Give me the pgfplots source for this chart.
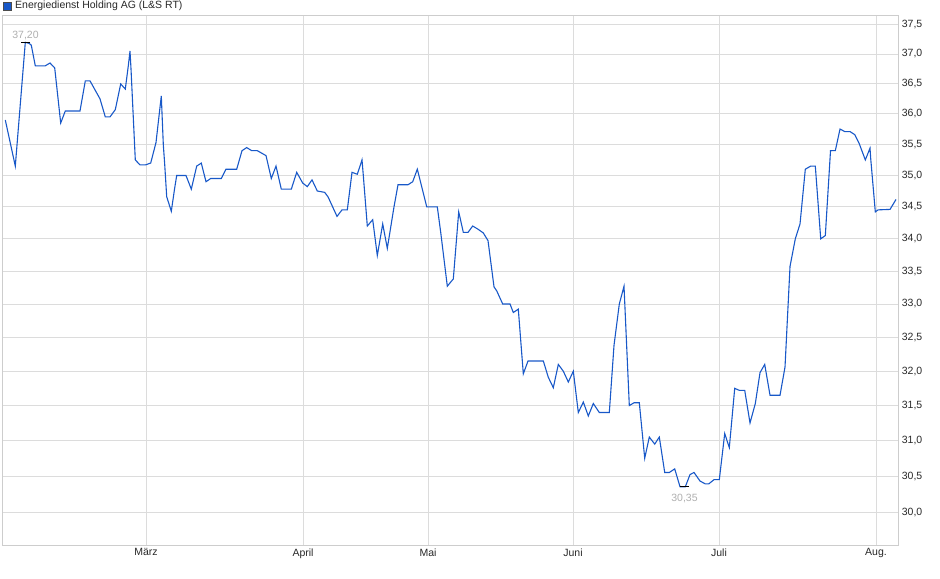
\documentclass[border=0pt]{standalone}
\usepackage{fontspec}
\setmainfont{Liberation Sans}
\usepackage{pgfplots}
\pgfplotsset{compat=1.18}
\definecolor{kurs}{RGB}{24,88,200}
\definecolor{gitter}{RGB}{220,220,220}
\definecolor{rahmen}{RGB}{205,205,205}
\definecolor{marke}{RGB}{175,175,175}
\definecolor{schrift}{RGB}{40,40,40}

\begin{document}
\begin{tikzpicture}[x=1bp,y=1bp]
\useasboundingbox (0,0) rectangle (940,579);
% title with series square
\filldraw[fill=kurs,draw=black!70,line width=0.6bp] (3.5,569) rectangle (11.5,577);
\node[anchor=west,inner sep=0pt,text=schrift,font=\fontsize{10.5bp}{12bp}\selectfont] at (15,573) {Energiedienst Holding AG (L\&S RT)};

\begin{axis}[
at={(2.7bp,33.7bp)},anchor=south west,
scale only axis,
width=895.6bp,height=529.3bp,
ymode=log,
xmin=2.7,xmax=898.3,
ymin=29.549,ymax=37.655,
xtick={146,303,428,573,719,876},
xticklabels={März,April,Mai,Juni,Juli,Aug.},
ytick={30,30.5,31,31.5,32,32.5,33,33.5,34,34.5,35,35.5,36,36.5,37,37.5},
yticklabels={{30,0},{30,5},{31,0},{31,5},{32,0},{32,5},{33,0},{33,5},{34,0},{34,5},{35,0},{35,5},{36,0},{36,5},{37,0},{37,5}},
yticklabel pos=right,
major tick length=0pt,
tick label style={font=\fontsize{10.5bp}{12bp}\selectfont,text=schrift},
xmajorgrids,ymajorgrids,
grid style={draw=gitter,line width=1bp},
axis line style={draw=rahmen,line width=1bp},
clip=false
]

\addplot[color=kurs,line width=1.1bp,mark=none]
coordinates {
(5.3,35.90) (15.3,35.15) (25.3,37.20) (29.3,37.18) (31.3,37.15)
(35.3,36.80) (45.3,36.80) (50,36.85) (54.7,36.77) (60.7,35.85)
(65.3,36.05) (80,36.05) (85.3,36.55) (90,36.55) (100,36.25)
(105.3,35.95) (110,35.95) (115.3,36.07) (120.7,36.50) (125.3,36.41)
(128.3,36.80) (130,37.05) (131,36.75) (135.3,35.25) (140,35.17)
(145.3,35.17) (150.7,35.20) (156,35.53) (161.3,36.30) (163.3,35.50)
(164.7,35.18) (166.7,34.66) (171.3,34.43) (174.7,34.80) (176.7,35.00)
(186,35.00) (191.3,34.78) (196.7,35.15) (201.3,35.20) (206,34.90)
(210.7,34.95) (221.3,34.95) (226,35.10) (236.7,35.10) (242,35.40)
(246.7,35.45) (251.7,35.40) (257.3,35.40) (266,35.32) (271.3,34.95)
(276,35.15) (281.3,34.78) (291.3,34.78) (296.7,35.05) (302.7,34.88)
(307.3,34.82) (312,34.93) (317.3,34.75) (324.7,34.73) (328,34.66)
(337,34.35) (342,34.45) (347.3,34.45) (352,35.05) (357.3,35.02)
(362,35.25) (363.3,35.00) (367.3,34.20) (372.7,34.30) (377.3,33.74)
(382.7,34.23) (387.3,33.85) (394,34.50) (398,34.85) (408,34.85)
(412.7,34.90) (417.3,35.10) (426.7,34.50) (437.3,34.50) (440.7,34.10)
(447.3,33.27) (453.3,33.38) (458.7,34.42) (460,34.33) (463.3,34.10)
(468,34.10) (472.7,34.20) (478,34.15) (483.3,34.09) (488,33.97)
(494,33.26) (496.7,33.20) (502.7,33.00) (510,33.00) (513.3,32.87)
(518.3,32.92) (523.3,31.96) (528,32.15) (543.3,32.15) (548.3,31.91)
(553.3,31.76) (558.3,32.10) (563.3,32.00) (568.3,31.84) (573.3,32.00)
(578.3,31.40) (583.3,31.55) (588.3,31.35) (593.3,31.53) (599.3,31.40)
(609.3,31.40) (614,32.38) (619.3,33.00) (624,33.27) (629.3,31.50)
(634,31.54) (639.3,31.54) (644.7,30.75) (649.3,31.05) (654.7,30.95)
(659.3,31.05) (664.7,30.55) (669.3,30.55) (674.7,30.60) (680,30.35)
(685.3,30.35) (690,30.52) (694,30.55) (700,30.43) (705.3,30.39)
(708.7,30.39) (714,30.45) (719.3,30.45) (724.7,31.10) (729.3,30.90)
(734.7,31.75) (739.3,31.72) (744.7,31.72) (750,31.25) (755.3,31.53)
(760,31.98) (764.7,32.10) (770,31.65) (780,31.65) (785,32.06)
(790,33.57) (795.3,34.00) (800,34.23) (805.3,35.10) (810.7,35.15)
(815.3,35.15) (820.7,34.00) (825.3,34.05) (830.5,35.40) (835.3,35.40)
(840,35.75) (844.7,35.71) (850,35.71) (854.7,35.66) (859.3,35.51)
(865.3,35.25) (870,35.44) (870.7,35.27) (875.3,34.42) (878,34.45)
(890,34.46) (896,34.62)
};

% high and low markers
\addplot[black,only marks,mark=-,mark size=4.5bp,line width=0.8bp,
  nodes near coords={37,20},
  every node near coord/.style={anchor=south,yshift=-1.5bp,text=marke,font=\fontsize{10.5bp}{12bp}\selectfont}]
coordinates {(25.5,37.20)};
\addplot[black,only marks,mark=-,mark size=4.5bp,line width=0.8bp,
  nodes near coords={30,35},
  every node near coord/.style={anchor=north,yshift=-3.5bp,text=marke,font=\fontsize{10.5bp}{12bp}\selectfont}]
coordinates {(684.5,30.35)};
\end{axis}
\end{tikzpicture}
\end{document}
